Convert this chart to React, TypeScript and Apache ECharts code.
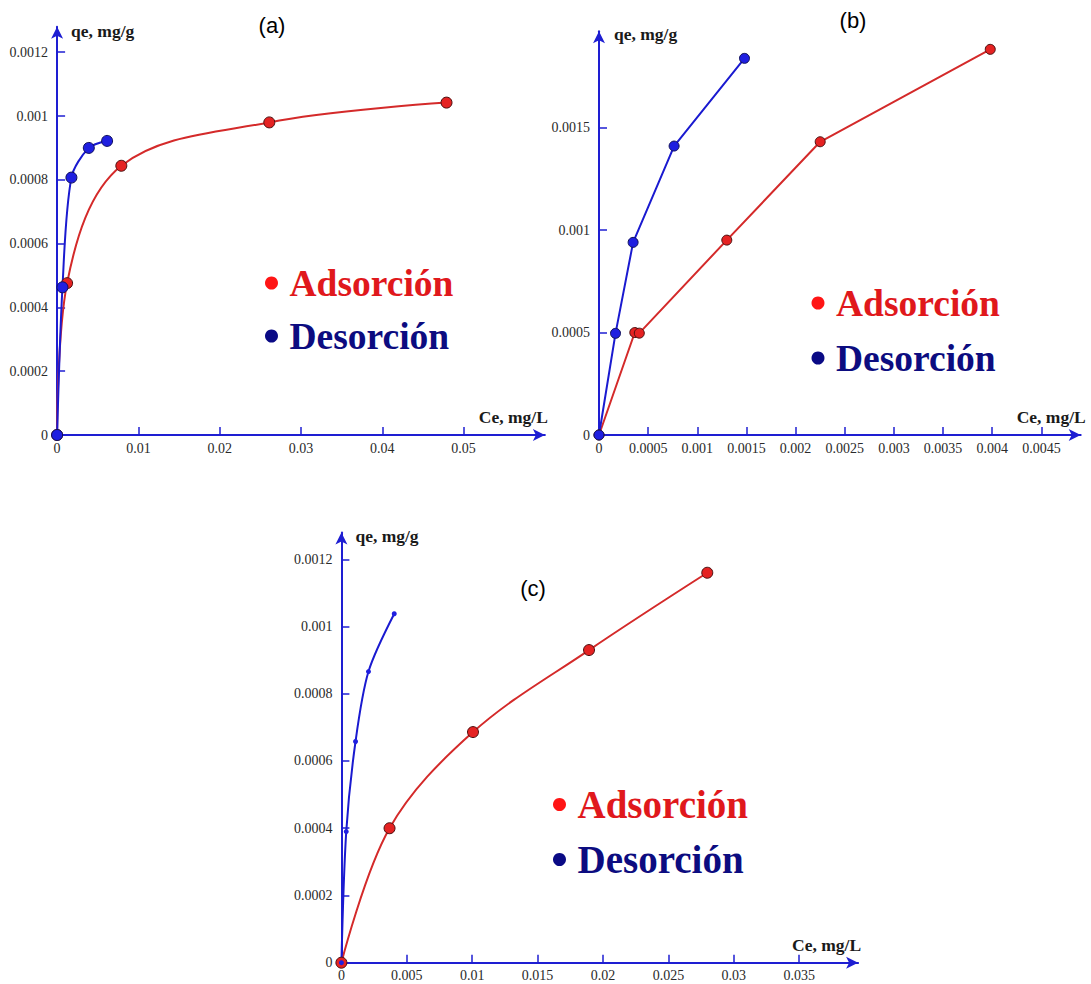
import React, { useEffect, useRef } from "react";
import * as echarts from "echarts";

// ---------- Panel (a) ----------
const aAdsCe = [0, 0.00123, 0.0079, 0.0261, 0.0479];
const aAdsQe = [0, 0.000476, 0.000844, 0.00098, 0.001042];
const aDesCe = [0, 0.00066, 0.00176, 0.0039, 0.00615];
const aDesQe = [0, 0.000463, 0.000807, 0.0009, 0.000922];
const aXTicks = [0, 0.01, 0.02, 0.03, 0.04, 0.05];
const aYTicks = [0, 0.0002, 0.0004, 0.0006, 0.0008, 0.001, 0.0012];

// ---------- Panel (b) ----------
const bAdsCe = [0, 0.000364, 0.00041, 0.0013, 0.00225, 0.00398];
const bAdsQe = [0, 0.0005, 0.000497, 0.000951, 0.001431, 0.001882];
const bDesCe = [0, 0.000168, 0.000347, 0.000764, 0.00148];
const bDesQe = [0, 0.000496, 0.00094, 0.00141, 0.001838];
const bXTicks = [0, 0.0005, 0.001, 0.0015, 0.002, 0.0025, 0.003, 0.0035, 0.004, 0.0045];
const bYTicks = [0, 0.0005, 0.001, 0.0015];

// ---------- Panel (c) ----------
const cAdsCe = [0, 0.00368, 0.01006, 0.01893, 0.02797];
const cAdsQe = [0, 0.0004, 0.000686, 0.00093, 0.00116];
const cDesCe = [0, 0.00037, 0.00108, 0.00207, 0.00404];
const cDesQe = [0, 0.00039, 0.000658, 0.000866, 0.001038];
const cXTicks = [0, 0.005, 0.01, 0.015, 0.02, 0.025, 0.03, 0.035];
const cYTicks = [0, 0.0002, 0.0004, 0.0006, 0.0008, 0.001, 0.0012];

const panelTitles = ["(a)", "(b)", "(c)"];
const seriesNames = ["Adsorción", "Desorción"];
const xName = "Ce, mg/L";
const yName = "qe, mg/g";

const AXIS = "#1e1ed2";
const RED_LINE = "#d42a2a";
const RED_MARK = "#e52222";
const RED_BORDER = "#4a1010";
const BLUE_LINE = "#1a1ad0";
const BLUE_MARK = "#1f1fe0";
const BLUE_BORDER = "#10105a";
const SERIF = "'Liberation Serif', 'Times New Roman', serif";

const zip = (xs: number[], ys: number[]) => xs.map((x, i) => [x, ys[i]]);

function xAx(idx: number, max: number, ticks: number[], nameGap: number, padBottom: number) {
  return {
    type: "value",
    gridIndex: idx,
    min: 0,
    max,
    name: xName,
    nameLocation: "end",
    nameGap,
    nameTextStyle: {
      fontFamily: SERIF,
      fontWeight: "bold",
      fontSize: 17.5,
      color: "#1a1a1a",
      align: "right",
      verticalAlign: "bottom",
      padding: [0, 0, padBottom, 0],
    },
    axisLine: {
      show: true,
      onZero: false,
      symbol: ["none", "arrow"],
      symbolSize: [9, 12],
      lineStyle: { color: AXIS, width: 2 },
    },
    axisTick: {
      show: true,
      inside: true,
      length: 8,
      customValues: ticks,
      lineStyle: { color: AXIS, width: 1.5 },
    },
    axisLabel: {
      customValues: ticks,
      formatter: (v: number) => String(v),
      color: "#2a2a2a",
      fontFamily: SERIF,
      fontSize: 14,
      margin: 6,
    },
    splitLine: { show: false },
  };
}

function yAx(idx: number, max: number, ticks: number[], nameGap: number, padLeft: number) {
  return {
    type: "value",
    gridIndex: idx,
    min: 0,
    max,
    name: yName,
    nameLocation: "end",
    nameGap,
    nameTextStyle: {
      fontFamily: SERIF,
      fontWeight: "bold",
      fontSize: 17.5,
      color: "#1a1a1a",
      align: "left",
      verticalAlign: "middle",
      padding: [0, 0, 0, padLeft],
    },
    axisLine: {
      show: true,
      onZero: false,
      symbol: ["none", "arrow"],
      symbolSize: [9, 12],
      lineStyle: { color: AXIS, width: 2 },
    },
    axisTick: {
      show: true,
      inside: true,
      length: 8,
      customValues: ticks,
      lineStyle: { color: AXIS, width: 1.5 },
    },
    axisLabel: {
      customValues: ticks,
      formatter: (v: number) => String(v),
      color: "#2a2a2a",
      fontFamily: SERIF,
      fontSize: 14,
      margin: 9,
    },
    splitLine: { show: false },
  };
}

function legendAt(left: number, top: number, fontSize: number, gap: number) {
  return {
    left,
    top,
    orient: "vertical",
    padding: 0,
    itemGap: gap,
    itemWidth: 26,
    itemHeight: 13,
    icon: "circle",
    selectedMode: false,
    textStyle: { fontFamily: SERIF, fontWeight: "bold", fontSize },
    data: [
      {
        name: seriesNames[0],
        itemStyle: { color: "#ff1515", borderWidth: 0 },
        textStyle: { color: "#e0181c", fontFamily: SERIF, fontWeight: "bold", fontSize },
      },
      {
        name: seriesNames[1],
        itemStyle: { color: "#0a0a85", borderWidth: 0 },
        textStyle: { color: "#0c0c80", fontFamily: SERIF, fontWeight: "bold", fontSize },
      },
    ],
  };
}

function series(
  name: string,
  idx: number,
  data: number[][],
  smooth: number | false,
  isRed: boolean,
  size: number,
  border: boolean
) {
  return {
    type: "line",
    name,
    xAxisIndex: idx,
    yAxisIndex: idx,
    data,
    smooth,
    symbol: "circle",
    symbolSize: size,
    showSymbol: true,
    lineStyle: { color: isRed ? RED_LINE : BLUE_LINE, width: 2 },
    itemStyle: {
      color: isRed ? RED_MARK : BLUE_MARK,
      borderColor: isRed ? RED_BORDER : BLUE_BORDER,
      borderWidth: border ? 1 : 0,
    },
    emphasis: { disabled: true },
  };
}

function titleText(text: string, x: number, y: number) {
  return {
    type: "text",
    x,
    y,
    style: {
      text,
      fill: "#000",
      fontFamily: "'Liberation Sans', Arial, sans-serif",
      fontSize: 22,
      align: "center",
      verticalAlign: "middle",
    },
  };
}

export default function App() {
  const ref = useRef<HTMLDivElement>(null);

  useEffect(() => {
    if (!ref.current) return;
    const chart = echarts.init(ref.current, undefined, { renderer: "svg" });
    chart.setOption({
      animation: false,
      backgroundColor: "#ffffff",
      grid: [
        { left: 57.1, top: 26.7, width: 487.8, height: 408.3 },
        { left: 599, top: 31.3, width: 481.7, height: 403.7 },
        { left: 341.4, top: 532.4, width: 516.7, height: 430.3 },
      ],
      xAxis: [
        xAx(0, 0.06, aXTicks, 3, 9),
        xAx(1, 0.0049, bXTicks, 5, 9),
        xAx(2, 0.0395, cXTicks, 3, 9),
      ],
      yAxis: [
        yAx(0, 0.00128, aYTicks, -4, 14),
        yAx(1, 0.00197, bYTicks, -3, 15),
        yAx(2, 0.00128, cYTicks, -4, 14),
      ],
      legend: [
        legendAt(265, 264, 37.5, 15),
        legendAt(811.5, 284, 37.5, 17),
        legendAt(553, 785, 39, 16),
      ],
      graphic: [
        titleText(panelTitles[0], 272, 25),
        titleText(panelTitles[1], 853, 20),
        titleText(panelTitles[2], 533, 588),
      ],
      series: [
        series(seriesNames[0], 0, zip(aAdsCe, aAdsQe), 0.35, true, 11, true),
        series(seriesNames[1], 0, zip(aDesCe, aDesQe), 0.3, false, 11, true),
        series(seriesNames[0], 1, zip(bAdsCe, bAdsQe), false, true, 10, true),
        series(seriesNames[1], 1, zip(bDesCe, bDesQe), false, false, 10, true),
        series(seriesNames[0], 2, zip(cAdsCe, cAdsQe), 0.35, true, 11, true),
        series(seriesNames[1], 2, zip(cDesCe, cDesQe), 0.3, false, 5, false),
      ],
    });
    return () => chart.dispose();
  }, []);

  return (
    <div
      ref={ref}
      style={{ position: "absolute", left: 0, top: 0, width: 1091, height: 984, background: "#fff" }}
    />
  );
}
